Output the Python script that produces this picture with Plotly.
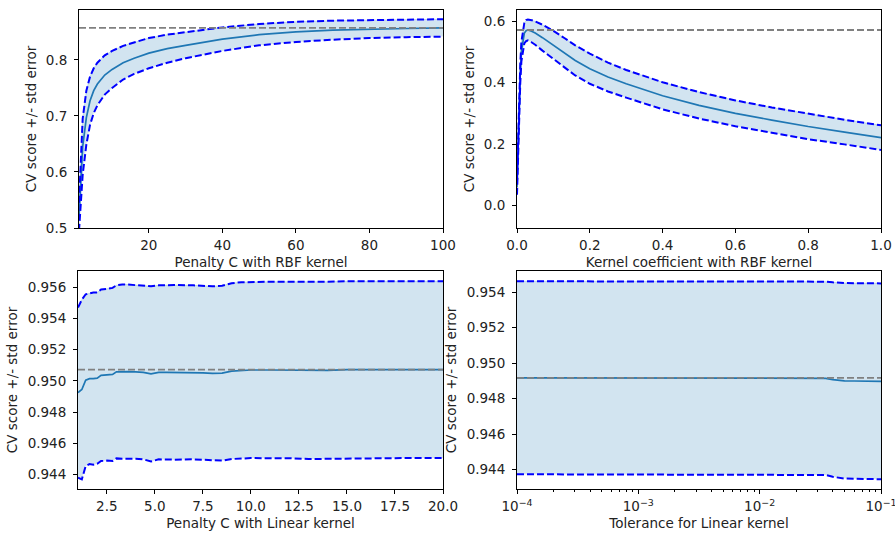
import plotly.graph_objects as go

# ---------------- data ----------------
# Panel 1: Penalty C with RBF kernel
c_rbf = [1, 1.5, 2, 3, 4, 5, 6, 8, 10, 13, 16, 20, 25, 30, 35, 40, 50, 60, 70, 80, 90, 100]
c_rbf_mean = [0.52, 0.59, 0.645, 0.697, 0.727, 0.745, 0.757, 0.773, 0.783, 0.795, 0.803, 0.812,
              0.820, 0.826, 0.832, 0.837, 0.845, 0.850, 0.853, 0.855, 0.856, 0.857]
c_rbf_std = [0.025, 0.045, 0.05, 0.048, 0.043, 0.040, 0.038, 0.035, 0.033, 0.030, 0.028, 0.027,
             0.025, 0.023, 0.022, 0.021, 0.019, 0.018, 0.017, 0.016, 0.0155, 0.0155]

# Panel 2: Kernel coefficient (gamma) with RBF kernel
gamma = [0.0, 0.003, 0.006, 0.009, 0.012, 0.016, 0.02, 0.025, 0.03, 0.04, 0.05, 0.07, 0.1, 0.13,
         0.16, 0.2, 0.25, 0.3, 0.35, 0.4, 0.5, 0.6, 0.7, 0.8, 0.9, 1.0]
gamma_mean = [0.06, 0.20, 0.33, 0.43, 0.50, 0.54, 0.56, 0.569, 0.571, 0.567, 0.561, 0.546, 0.522,
              0.497, 0.472, 0.445, 0.418, 0.396, 0.376, 0.357, 0.326, 0.300, 0.278, 0.257, 0.239, 0.221]
gamma_std = [0.025, 0.028, 0.030, 0.031, 0.032, 0.033, 0.033, 0.034, 0.034, 0.036, 0.038, 0.042,
             0.046, 0.048, 0.049, 0.049, 0.047, 0.045, 0.045, 0.044, 0.043, 0.042, 0.041, 0.041,
             0.040, 0.040]

# Panel 3: Penalty C with Linear kernel
c_lin = [1, 1.2, 1.4, 1.6, 1.8, 2.0, 2.2, 2.5, 2.8, 3.0, 3.3, 3.6, 4.0, 4.4, 4.8, 5.2, 5.6, 6,
         7, 7.5, 8, 8.5, 9, 9.5, 10, 11, 12, 13, 14, 15, 16, 18, 20]
c_lin_mean = [0.94925, 0.94945, 0.95005, 0.95015, 0.95015, 0.95018, 0.95036, 0.95040, 0.95042,
              0.95058, 0.95060, 0.95060, 0.95058, 0.95055, 0.95045, 0.95055, 0.95055, 0.95055,
              0.95055, 0.95052, 0.95048, 0.95050, 0.95063, 0.95068, 0.95070, 0.95070, 0.95070,
              0.95067, 0.95068, 0.95072, 0.95072, 0.95072, 0.95072]
c_lin_std = [0.00545, 0.00575, 0.00550, 0.00547, 0.00551, 0.00548, 0.00549, 0.00550, 0.00554,
             0.00554, 0.00558, 0.00557, 0.00556, 0.00557, 0.00561, 0.00557, 0.00559, 0.00559,
             0.00557, 0.00558, 0.00558, 0.00560, 0.00563, 0.00564, 0.00564, 0.00565, 0.00565,
             0.00567, 0.00567, 0.00566, 0.00566, 0.00566, 0.00566]

# Panel 4: Tolerance for Linear kernel
tol = [1e-4, 1e-3, 1e-2, 0.02, 0.03, 0.035, 0.04, 0.045, 0.05, 0.06, 0.07, 0.08, 0.09, 0.1]
tol_mean = [0.94918, 0.94918, 0.94918, 0.94918, 0.94918, 0.94915, 0.94908, 0.94903, 0.94901,
            0.94900, 0.94900, 0.94899, 0.94899, 0.94898]
tol_std = [0.00544, 0.00544, 0.00544, 0.00544, 0.00544, 0.00545, 0.00548, 0.00550, 0.00551,
           0.00551, 0.00552, 0.00552, 0.00552, 0.00552]

x_titles = ["Penalty C with RBF kernel", "Kernel coefficient with RBF kernel",
            "Penalty C with Linear kernel", "Tolerance for Linear kernel"]
y_title = "CV score +/- std error"
log_exponents = [-4, -3, -2, -1]

# ---------------- styling ----------------
W, H = 895, 538
MEAN_C = "#1f77b4"
FILL_C = "rgba(31,119,180,0.2)"
BAND_C = "#0000ff"
GREY_C = "#808080"
FONT = dict(family="DejaVu Sans", size=13.5, color="#222222")

# axis boxes in pixel coordinates (left, right, top, bottom)
boxes = [(79, 443, 10, 228), (517, 881, 10, 228), (78, 443, 271, 489), (517, 881, 271, 489)]

panels = [
    (c_rbf, c_rbf_mean, c_rbf_std),
    (gamma, gamma_mean, gamma_std),
    (c_lin, c_lin_mean, c_lin_std),
    (tol, tol_mean, tol_std),
]

fig = go.Figure()
for i, (xs, m, s) in enumerate(panels):
    xa = "x" if i == 0 else f"x{i+1}"
    ya = "y" if i == 0 else f"y{i+1}"
    lower = [a - b for a, b in zip(m, s)]
    upper = [a + b for a, b in zip(m, s)]
    fig.add_trace(go.Scatter(x=xs, y=lower, xaxis=xa, yaxis=ya, mode="lines",
                             line=dict(width=0, color=FILL_C), hoverinfo="skip", showlegend=False))
    fig.add_trace(go.Scatter(x=xs, y=upper, xaxis=xa, yaxis=ya, mode="lines", fill="tonexty",
                             fillcolor=FILL_C, line=dict(width=1, color=FILL_C),
                             hoverinfo="skip", showlegend=False))
    fig.add_trace(go.Scatter(x=xs, y=m, xaxis=xa, yaxis=ya, mode="lines",
                             line=dict(width=1.7, color=MEAN_C), showlegend=False))
    for band in (upper, lower):
        fig.add_trace(go.Scatter(x=xs, y=band, xaxis=xa, yaxis=ya, mode="lines",
                                 line=dict(width=2, color=BAND_C, dash="7px,3px"), showlegend=False))
    best = max(m)
    fig.add_trace(go.Scatter(x=[xs[0], xs[-1]], y=[best, best], xaxis=xa, yaxis=ya, mode="lines",
                             line=dict(width=1.8, color=GREY_C, dash="7px,3px"), showlegend=False))

axis_common = dict(showline=True, linecolor="black", linewidth=1, mirror=True, ticks="outside",
                   ticklen=4, tickcolor="black", tickwidth=1, showgrid=False, zeroline=False,
                   tickfont=FONT, title_font=FONT, automargin=False, ticklabeloverflow="allow")

x_settings = [
    dict(range=[1, 100], tickvals=[20, 40, 60, 80, 100]),
    dict(range=[0, 1], tickvals=[0, 0.2, 0.4, 0.6, 0.8, 1.0], tickformat=".1f"),
    dict(range=[1, 20], tickvals=[2.5, 5, 7.5, 10, 12.5, 15, 17.5, 20], tickformat=".1f"),
    dict(type="log", range=[-4.00001, -0.99999], tickvals=[10.0 ** e for e in log_exponents],
         ticktext=[f"10<sup>\u2212{abs(e)}</sup>" for e in log_exponents],
         minor=dict(ticks="outside", ticklen=2, tickcolor="black",
                    tickvals=[k * 10.0 ** e for e in range(-4, -1) for k in range(2, 10)])),
]
y_settings = [
    dict(range=[0.5, 0.889], tickvals=[0.5, 0.6, 0.7, 0.8], tickformat=".1f"),
    dict(range=[-0.073, 0.636], tickvals=[0.0, 0.2, 0.4, 0.6], tickformat=".1f"),
    dict(range=[0.94308, 0.95704], tickvals=[0.944, 0.946, 0.948, 0.950, 0.952, 0.954, 0.956],
         tickformat=".3f"),
    dict(range=[0.94291, 0.9552], tickvals=[0.944, 0.946, 0.948, 0.950, 0.952, 0.954],
         tickformat=".3f"),
]

layout = dict(width=W, height=H, margin=dict(l=0, r=0, t=0, b=0), paper_bgcolor="white",
              plot_bgcolor="white", font=FONT, showlegend=False)
for i, (l, r, t, b) in enumerate(boxes):
    xk = "xaxis" if i == 0 else f"xaxis{i+1}"
    yk = "yaxis" if i == 0 else f"yaxis{i+1}"
    xa = "x" if i == 0 else f"x{i+1}"
    ya = "y" if i == 0 else f"y{i+1}"
    layout[xk] = dict(axis_common, domain=[l / W, r / W], anchor=ya, ticklabelstandoff=1,
                      title=dict(text=x_titles[i], standoff=5), **x_settings[i])
    layout[yk] = dict(axis_common, domain=[1 - b / H, 1 - t / H], anchor=xa, ticklabelstandoff=4,
                      title=dict(text=y_title, standoff=6), **y_settings[i])

fig.update_layout(**layout)
fig.write_html("out.html", config={"displayModeBar": False},
               post_script="document.body.style.margin='0px';document.body.style.padding='0px';")
